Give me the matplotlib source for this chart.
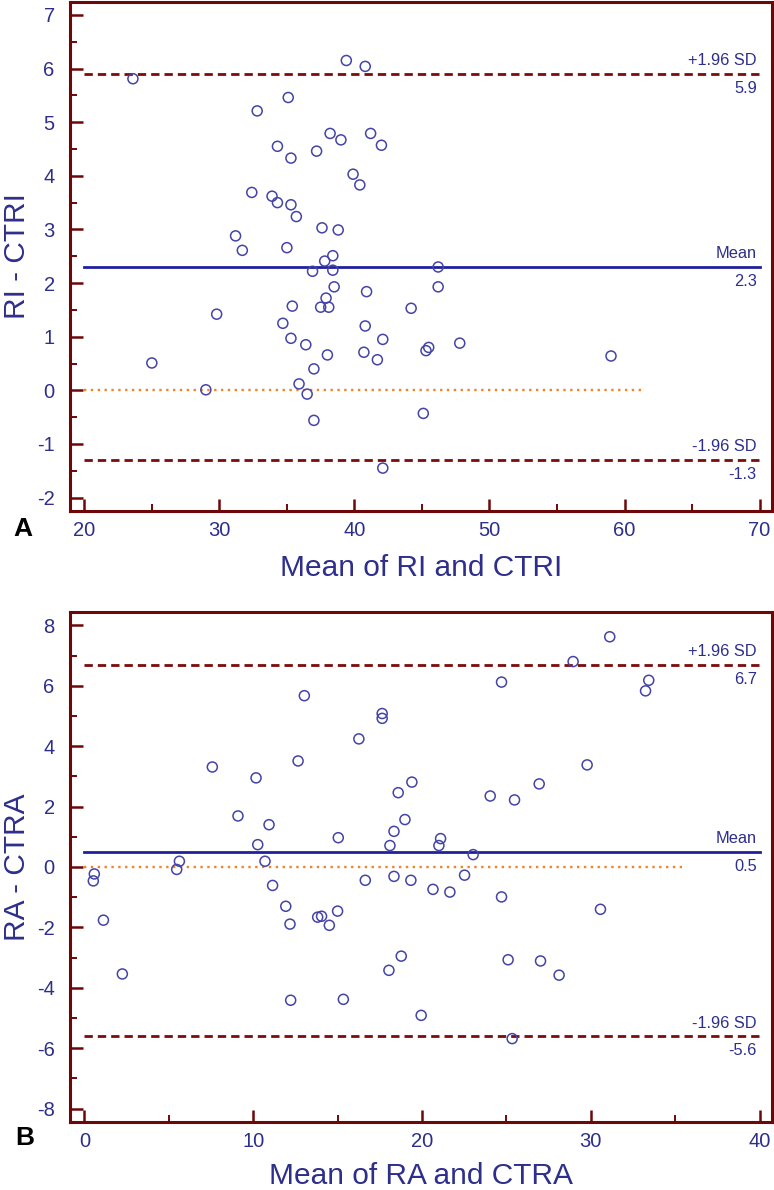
import matplotlib
matplotlib.use("Agg")
import matplotlib.pyplot as plt
from matplotlib.ticker import MultipleLocator

# Panel A: RI vs CTRI (Bland-Altman)
ri_mean = [23.6, 25.0, 29.0, 29.8, 31.2, 31.7, 32.4, 32.8, 33.9, 34.3,
           34.3, 34.7, 35.0, 35.1, 35.3, 35.3, 35.3, 35.4, 35.7, 35.9,
           36.4, 36.5, 36.9, 37.0, 37.0, 37.2, 37.5, 37.6, 37.8, 37.9,
           38.0, 38.1, 38.2, 38.4, 38.4, 38.5, 38.8, 39.0, 39.4, 39.9,
           40.4, 40.7, 40.8, 40.8, 40.9, 41.2, 41.7, 42.0, 42.1, 42.1,
           44.2, 45.1, 45.3, 45.5, 46.2, 46.2, 47.8, 59.0]
ri_diff = [5.81, 0.51, 0.01, 1.42, 2.88, 2.61, 3.69, 5.21, 3.62, 4.55,
           3.50, 1.25, 2.66, 5.46, 4.33, 0.97, 3.46, 1.57, 3.24, 0.12,
           0.85, -0.07, 2.22, 0.40, -0.56, 4.46, 1.55, 3.03, 2.41, 1.72,
           0.66, 1.55, 4.79, 2.51, 2.24, 1.93, 2.99, 4.67, 6.15, 4.03,
           3.83, 0.71, 6.04, 1.20, 1.84, 4.79, 0.57, 4.57, 0.95, -1.45,
           1.53, -0.43, 0.74, 0.80, 2.30, 1.93, 0.88, 0.64]
ri_stats = {"mean": 2.3, "upper": 5.9, "lower": -1.3}

# Panel B: RA vs CTRA
ra_mean = [0.53, 0.59, 1.13, 2.25, 5.47, 5.63, 7.58, 9.10, 10.17, 10.27,
           10.70, 10.94, 11.15, 11.93, 12.18, 12.22, 12.66, 13.03, 13.82, 14.05,
           14.51, 15.00, 15.04, 15.34, 16.26, 16.64, 17.64, 17.64, 18.04, 18.10,
           18.34, 18.34, 18.59, 18.77, 18.99, 19.34, 19.40, 19.95, 20.65, 21.00,
           21.10, 21.65, 22.52, 23.03, 24.04, 24.71, 24.71, 25.10, 25.34, 25.48,
           26.94, 27.02, 28.12, 28.95, 29.78, 30.57, 31.12, 33.24, 33.43]
ra_diff = [-0.46, -0.23, -1.76, -3.54, -0.08, 0.19, 3.31, 1.69, 2.95, 0.74,
           0.19, 1.40, -0.61, -1.30, -1.89, -4.41, 3.51, 5.67, -1.66, -1.63,
           -1.93, -1.46, 0.97, -4.38, 4.24, -0.44, 5.08, 4.92, -3.42, 0.71,
           1.18, -0.31, 2.46, -2.95, 1.57, -0.44, 2.81, -4.91, -0.74, 0.71,
           0.94, -0.83, -0.27, 0.41, 2.35, 6.12, -0.99, -3.07, -5.68, 2.22,
           2.75, -3.11, -3.58, 6.80, 3.38, -1.40, 7.62, 5.83, 6.18]
ra_stats = {"mean": 0.5, "upper": 6.7, "lower": -5.6}

FRAME = "#6E0808"
NAVY = "#2E2E8C"
MARKER = "#4444A8"
MEANC = "#20209C"
LOAC = "#7A0C0C"
ZEROC = "#F0842A"

plt.rcParams.update({
    "font.family": ["Liberation Sans", "DejaVu Sans"],
    "axes.unicode_minus": False,
})


def draw_panel(ax, x, d, stats, xlim, ylim, xr, zero_end, ymajor, yminor,
               xlabel, ylabel, xlabel_y):
    ax.set_xlim(*xlim)
    ax.set_ylim(*ylim)
    x0, x1 = xr
    ax.plot([x0, zero_end], [0, 0], color=ZEROC, lw=1.7, ls=(0, (1, 1.9)),
            zorder=2)
    ax.plot([x0, x1], [stats["mean"]] * 2, color=MEANC, lw=2.0, zorder=2)
    for k in ("upper", "lower"):
        ax.plot([x0, x1], [stats[k]] * 2, color=LOAC, lw=2.0,
                ls=(0, (3, 1.8)), zorder=2)
    ax.scatter(x, d, s=52, facecolors="none", edgecolors=MARKER,
               linewidths=1.1, zorder=3)

    labels = {"upper": "+1.96 SD", "mean": "Mean", "lower": "-1.96 SD"}
    for k, name in labels.items():
        v = stats[k]
        ax.annotate(name, (x1, v), xytext=(-2, 4), textcoords="offset points",
                    ha="right", va="bottom", fontsize=11.8, color=NAVY)
        ax.annotate(f"{v:.1f}", (x1, v), xytext=(-2, -5),
                    textcoords="offset points", ha="right", va="top",
                    fontsize=11.8, color=NAVY)

    for side in ax.spines.values():
        side.set_color(FRAME)
        side.set_linewidth(2.2)
    ax.xaxis.set_major_locator(MultipleLocator(10))
    ax.xaxis.set_minor_locator(MultipleLocator(5))
    ax.yaxis.set_major_locator(MultipleLocator(ymajor))
    ax.yaxis.set_minor_locator(MultipleLocator(yminor))
    ax.tick_params(which="both", direction="in", color=FRAME,
                   labelcolor=NAVY, labelsize=14.5)
    ax.tick_params(which="major", length=9, width=1.8)
    ax.tick_params(which="minor", length=5, width=1.4)
    ax.tick_params(axis="y", which="major", pad=11)
    ax.tick_params(axis="x", which="major", pad=7)
    ax.set_xlabel(xlabel, fontsize=21.5, color=NAVY)
    ax.set_ylabel(ylabel, fontsize=21.5, color=NAVY)
    ax.xaxis.set_label_coords(0.5, xlabel_y)
    ax.yaxis.set_label_coords(-0.056, 0.5)


fig = plt.figure(figsize=(7.74, 11.9), dpi=100)
W, H = 774, 1190
ax1 = fig.add_axes([70 / W, 1 - 511 / H, 702 / W, 509.5 / H])
ax2 = fig.add_axes([70 / W, 1 - 1122.3 / H, 702 / W, 510.6 / H])

draw_panel(ax1, ri_mean, ri_diff, ri_stats, (18.94, 70.92), (-2.25, 7.25),
           (20, 70), 61.2, 1, 0.5, "Mean of RI and CTRI", "RI - CTRI", -0.085)
draw_panel(ax2, ra_mean, ra_diff, ra_stats, (-0.85, 40.73), (-8.45, 8.45),
           (0, 40), 35.4, 2, 1, "Mean of RA and CTRA", "RA - CTRA", -0.078)

fig.text(13 / W, 1 - 536 / H, "A", fontsize=19, fontweight="bold",
         color="black", ha="left", va="baseline")
fig.text(15 / W, 1 - 1145 / H, "B", fontsize=19, fontweight="bold",
         color="black", ha="left", va="baseline")

fig.savefig("out.png", dpi=100)
